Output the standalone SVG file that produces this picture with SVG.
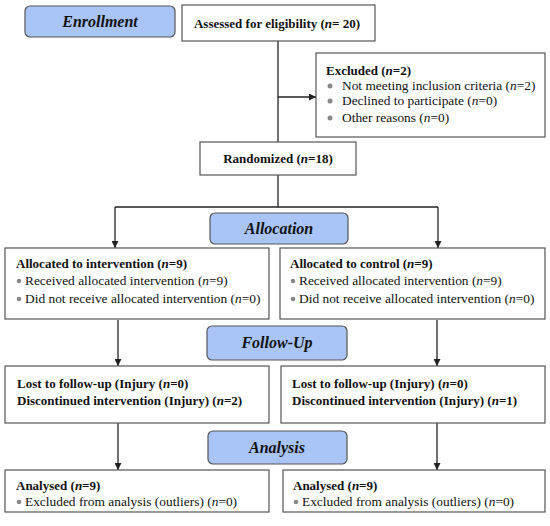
<svg xmlns="http://www.w3.org/2000/svg" width="550" height="526" viewBox="0 0 550 526" font-family="'Liberation Serif', 'DejaVu Serif', serif">
<defs>
<style>
.box{fill:#fff;stroke:#555;stroke-width:1.2}
.stage{fill:#a9c5f7;stroke:#555;stroke-width:1.2}
text{font-family:"Liberation Serif","DejaVu Serif",serif;font-size:13.4px;fill:#111}
.b{font-weight:bold;font-size:13px}
.st{font-weight:bold;font-style:italic;font-size:16px;text-anchor:middle}
.c{text-anchor:middle}
.dot{fill:#888}
.ln{fill:none;stroke:#222;stroke-width:1.3}
</style>
<marker id="ah" viewBox="0 0 10 10" refX="10" refY="5" markerWidth="7" markerHeight="7" markerUnits="userSpaceOnUse" orient="auto">
<path d="M0,0 L10,5 L0,10 z" fill="#222"/>
</marker>
</defs>
<rect width="550" height="526" fill="#fff"/>

<g id="connectors">
<path class="ln" d="M278,41 V142"/>
<path class="ln" d="M278,97 H316" marker-end="url(#ah)"/>
<path class="ln" d="M278,175 V207"/>
<path class="ln" d="M115,207 H438"/>
<path class="ln" d="M115,207 V248" marker-end="url(#ah)"/>
<path class="ln" d="M438,207 V248" marker-end="url(#ah)"/>
<path class="ln" d="M118,320 V366" marker-end="url(#ah)"/>
<path class="ln" d="M437,320 V366" marker-end="url(#ah)"/>
<path class="ln" d="M118,423 V470" marker-end="url(#ah)"/>
<path class="ln" d="M437,423 V470" marker-end="url(#ah)"/>
</g>

<g id="enrollment">
<rect class="stage" x="25" y="6" width="150" height="31" rx="5"/>
<text class="st" x="100" y="27">Enrollment</text>
</g>

<g id="assessed">
<rect class="box" x="182" y="5" width="193" height="36"/>
<text class="b c" x="277" y="28">Assessed for eligibility (<tspan font-style="italic">n</tspan>= 20)</text>
</g>

<g id="excluded">
<rect class="box" x="316" y="53" width="229" height="84"/>
<text class="b" x="326" y="75">Excluded (<tspan font-style="italic">n</tspan>=2)</text>
<circle class="dot" cx="330" cy="86" r="2.5"/>
<text x="342" y="90">Not meeting inclusion criteria (<tspan font-style="italic">n</tspan>=2)</text>
<circle class="dot" cx="330" cy="101" r="2.5"/>
<text x="342" y="105">Declined to participate (<tspan font-style="italic">n</tspan>=0)</text>
<circle class="dot" cx="330" cy="118" r="2.5"/>
<text x="342" y="122">Other reasons (<tspan font-style="italic">n</tspan>=0)</text>
</g>

<g id="randomized">
<rect class="box" x="200" y="142" width="156" height="33"/>
<text class="b c" x="278" y="163">Randomized (<tspan font-style="italic">n</tspan>=18)</text>
</g>

<g id="allocation">
<rect class="stage" x="210" y="213" width="138" height="31" rx="5"/>
<text class="st" x="279" y="234">Allocation</text>
</g>

<g id="alloc-intervention">
<rect class="box" x="5" y="248" width="264" height="71"/>
<text class="b" x="16" y="268">Allocated to intervention (<tspan font-style="italic">n</tspan>=9)</text>
<circle class="dot" cx="19" cy="281" r="2.3"/>
<text x="25" y="285">Received allocated intervention (<tspan font-style="italic">n</tspan>=9)</text>
<circle class="dot" cx="19" cy="299" r="2.3"/>
<text x="25" y="303">Did not receive allocated intervention (<tspan font-style="italic">n</tspan>=0)</text>
</g>

<g id="alloc-control">
<rect class="box" x="280" y="248" width="265" height="71"/>
<text class="b" x="290" y="268">Allocated to control (<tspan font-style="italic">n</tspan>=9)</text>
<circle class="dot" cx="293" cy="281" r="2.3"/>
<text x="299" y="285">Received allocated intervention (<tspan font-style="italic">n</tspan>=9)</text>
<circle class="dot" cx="293" cy="299" r="2.3"/>
<text x="299" y="303">Did not receive allocated intervention (<tspan font-style="italic">n</tspan>=0)</text>
</g>

<g id="followup">
<rect class="stage" x="207" y="326" width="140" height="34" rx="5"/>
<text class="st" x="277" y="348">Follow-Up</text>
</g>

<g id="lost-intervention">
<rect class="box" x="5" y="366" width="264" height="57"/>
<text class="b" x="17" y="388">Lost to follow-up (Injury (<tspan font-style="italic">n</tspan>=0)</text>
<text class="b" x="17" y="405">Discontinued intervention (Injury) (<tspan font-style="italic">n</tspan>=2)</text>
</g>

<g id="lost-control">
<rect class="box" x="281" y="366" width="264" height="57"/>
<text class="b" x="292" y="388">Lost to follow-up (Injury) (<tspan font-style="italic">n</tspan>=0)</text>
<text class="b" x="292" y="405">Discontinued intervention (Injury) (<tspan font-style="italic">n</tspan>=1)</text>
</g>

<g id="analysis">
<rect class="stage" x="208" y="431" width="139" height="33" rx="5"/>
<text class="st" x="277" y="453">Analysis</text>
</g>

<g id="analysed-intervention">
<rect class="box" x="5" y="470" width="264" height="42"/>
<text class="b" x="16" y="490">Analysed (<tspan font-style="italic">n</tspan>=9)</text>
<circle class="dot" cx="19" cy="502" r="2.3"/>
<text x="25" y="506">Excluded from analysis (outliers) (<tspan font-style="italic">n</tspan>=0)</text>
</g>

<g id="analysed-control">
<rect class="box" x="283" y="470" width="262" height="42"/>
<text class="b" x="293" y="490">Analysed (<tspan font-style="italic">n</tspan>=9)</text>
<circle class="dot" cx="296" cy="502" r="2.3"/>
<text x="302" y="506">Excluded from analysis (outliers) (<tspan font-style="italic">n</tspan>=0)</text>
</g>
</svg>
